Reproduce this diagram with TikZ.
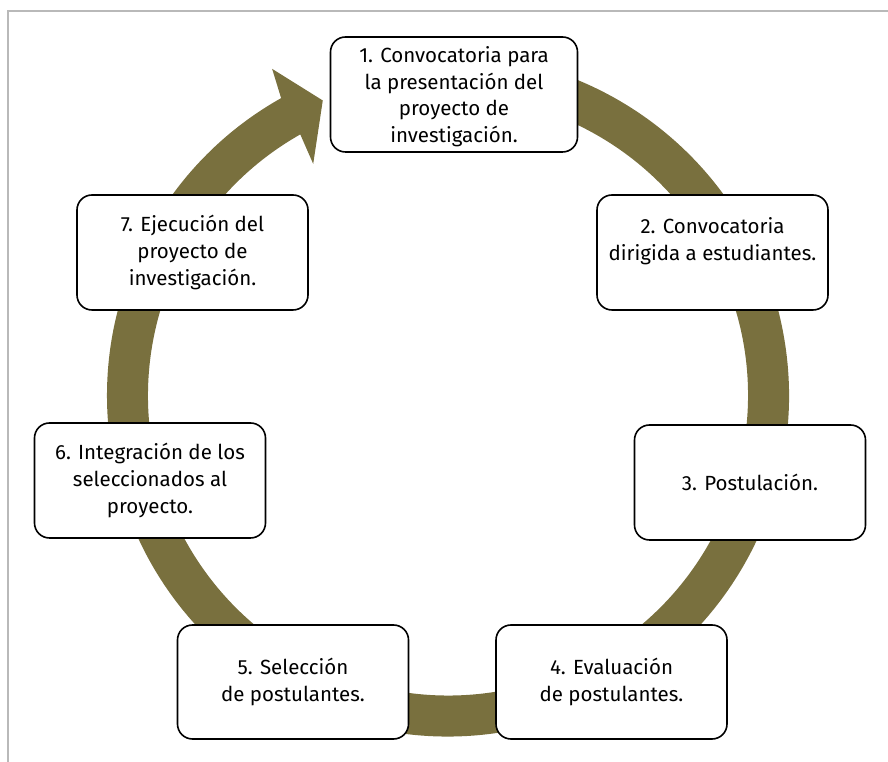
\documentclass[tikz,border=0pt]{standalone}
\usepackage{fontspec}
\setmainfont{Fira Sans}
\definecolor{olivo}{RGB}{121,112,62}
\colorlet{marco}{gray!55}

\begin{document}
\begin{tikzpicture}[x=1pt,y=1pt,
  paso/.style={draw,fill=white,rounded corners=15pt,line width=1.6pt,align=center,
    font=\fontsize{20.5}{26.6}\selectfont,minimum width=231pt,minimum height=115pt,inner sep=0pt}]%
\useasboundingbox (0,0) rectangle (888,762);%%
%%MARCO
\draw[marco,line width=1.5pt] (8,0) -- (8,751) -- (888,751);%%
%%ANILLO
\begin{scope}[shift={(448,366.5)}]
\fill[olivo] (100:341pt) arc[start angle=100,end angle=-240.7,radius=341pt]
  -- (-241.7:371pt) -- (-247:320.5pt) -- (-239.8:268pt) -- (-240.5:300pt)
  arc[start angle=-240.5,end angle=100,radius=300pt] -- cycle;%%
\end{scope}
%%PASOS
\node[paso,minimum width=247pt,text depth=0pt] (p1) at (454,667.5) {1. Convocatoria para\\la presentación del\\proyecto de\\investigación.}; %%
\node[paso,text depth=27pt] (p2) at (712.5,509.5) {2. Convocatoria\\dirigida a estudiantes.}; %%
\node[paso] (p3) at (750,279.5) {3. Postulación.}; %%
\node[paso,minimum height=114pt] (p4) at (611.5,80) {4. Evaluación\\de postulantes.}; %%
\node[paso,minimum height=114pt] (p5) at (293,80) {5. Selección\\de postulantes.}; %%
\node[paso] (p6) at (150,281.5) {6. Integración de los\\seleccionados al\\proyecto.}; %%
\node[paso] (p7) at (192.5,509.5) {7. Ejecución del\\proyecto de\\investigación.}; %%
\end{tikzpicture}
\end{document}
